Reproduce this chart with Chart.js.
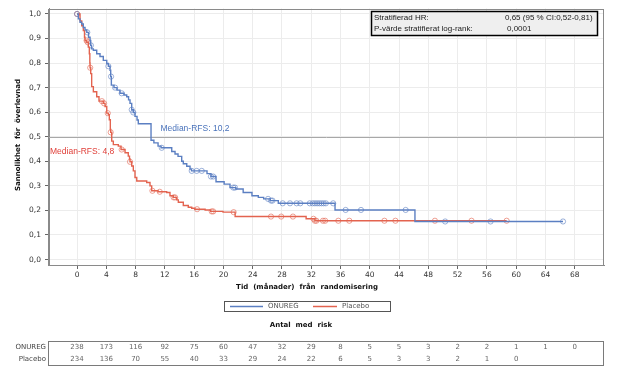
<!DOCTYPE html>
<html>
<head>
<meta charset="utf-8">
<script src="https://cdn.jsdelivr.net/npm/chart.js@4.4.1/dist/chart.umd.min.js"></script>
<style>
  html, body { margin: 0; padding: 0; background: #fff; }
  canvas { display: block; }
</style>
</head>
<body>
<canvas id="kmChart" width="626" height="385"></canvas>
<script>
// axis ticks
const xTicks = [0, 4, 8, 12, 16, 20, 24, 28, 32, 36, 40, 44, 48, 52, 56, 60, 64, 68];
const yTicks = [0, 0.1, 0.2, 0.3, 0.4, 0.5, 0.6, 0.7, 0.8, 0.9, 1.0];

// ONUREG step curve (time in months, survival)
const onuregT = [0, 0.18, 0.41, 0.64, 0.86, 1.09, 1.33, 1.57, 1.78, 1.87, 1.98, 2.23, 2.69, 3.14, 3.59, 4.06, 4.28, 4.51, 4.6, 4.69, 5.05, 5.46, 5.87, 6.42, 6.79, 7.04, 7.24, 7.47, 7.69, 7.92, 8.2, 8.37, 10.11, 10.5, 11.07, 11.48, 12.94, 13.39, 13.8, 14.3, 14.52, 14.99, 15.44, 15.64, 17.76, 18.3, 18.99, 20.1, 20.9, 21.7, 22.7, 23.9, 24.77, 25.5, 26.4, 27.5, 35.25, 46.17, 66.4];
const onuregS = [1.0, 0.98, 0.966, 0.959, 0.945, 0.935, 0.925, 0.905, 0.892, 0.872, 0.858, 0.852, 0.838, 0.827, 0.811, 0.798, 0.787, 0.771, 0.745, 0.71, 0.70, 0.69, 0.677, 0.67, 0.663, 0.65, 0.636, 0.61, 0.599, 0.583, 0.568, 0.553, 0.486, 0.475, 0.462, 0.455, 0.44, 0.43, 0.42, 0.40, 0.39, 0.38, 0.368, 0.361, 0.35, 0.338, 0.317, 0.307, 0.293, 0.287, 0.273, 0.26, 0.253, 0.247, 0.24, 0.229, 0.202, 0.155, 0.155];
const onuregCensor = [0, 1.4, 1.9, 4.28, 4.65, 5.2, 6.1, 7.47, 7.69, 11.57, 15.67, 16.35, 17.04, 18.3, 18.6, 21.35, 21.58, 26.1, 26.5, 26.7, 28.1, 29.1, 30.0, 30.5, 31.8, 32.2, 32.5, 32.8, 33.1, 33.4, 33.7, 34.0, 35.0, 36.7, 38.8, 44.9, 50.3, 56.5, 66.4];

// Placebo step curve
const placeboT = [0, 0.41, 0.64, 0.86, 1.02, 1.09, 1.33, 1.54, 1.68, 1.75, 1.78, 1.87, 2.0, 2.23, 2.69, 3.0, 3.59, 3.83, 4.06, 4.28, 4.41, 4.55, 4.6, 4.74, 4.96, 5.64, 6.01, 6.56, 7.0, 7.17, 7.24, 7.47, 7.69, 7.92, 8.16, 9.52, 9.97, 10.2, 11.07, 12.25, 12.7, 13.16, 13.62, 13.84, 14.52, 15.2, 15.67, 16.1, 17.5, 18.24, 19.95, 21.6, 31.3, 32.5, 58.7];
const placeboS = [1.0, 0.972, 0.952, 0.932, 0.905, 0.892, 0.885, 0.865, 0.838, 0.80, 0.781, 0.757, 0.704, 0.683, 0.663, 0.645, 0.636, 0.623, 0.596, 0.59, 0.569, 0.53, 0.518, 0.482, 0.468, 0.462, 0.448, 0.435, 0.421, 0.41, 0.398, 0.381, 0.361, 0.334, 0.32, 0.314, 0.30, 0.28, 0.276, 0.273, 0.26, 0.253, 0.243, 0.233, 0.22, 0.213, 0.209, 0.205, 0.202, 0.196, 0.193, 0.175, 0.166, 0.158, 0.158];
const placeboCensor = [0, 1.3, 1.45, 1.8, 3.4, 3.7, 4.2, 4.6, 6.1, 7.24, 10.3, 11.3, 13.2, 13.4, 16.4, 18.4, 18.6, 21.4, 26.5, 27.9, 29.5, 32.3, 32.5, 32.7, 33.6, 33.9, 35.7, 37.2, 42.0, 43.5, 48.9, 53.9, 58.7];

// numbers at risk (at each x tick)
const riskOnureg = [238, 173, 116, 92, 75, 60, 47, 32, 29, 8, 5, 5, 3, 2, 2, 1, 1, 0];
const riskPlacebo = [234, 136, 70, 55, 40, 33, 29, 24, 22, 6, 5, 3, 3, 2, 1, 0];

const statLabels = ['Stratifierad HR:', 'P-värde stratifierat log-rank:'];
const statValues = ['0,65 (95 % CI:0,52-0,81)', '0,0001'];

const BLUE = '#5b7fc2';
const RED = '#e3634f';

const survAt = (ts, ss, t) => {
    let s = ss[0];
    for (let i = 0; i < ts.length; i++) {
        if (ts[i] <= t) s = ss[i];
    }
    return s;
};

const curve = (ts, ss) => ts.map((t, i) => ({ x: t, y: ss[i] }));
const censored = (cs, ts, ss) => cs.map(t => ({ x: t, y: survAt(ts, ss, t) }));

const kmDecor = {
    id: 'kmDecor',
    beforeDatasetsDraw(chart) {
        const { ctx, chartArea: a, scales: { y } } = chart;
        const y5 = Math.round(y.getPixelForValue(0.5)) + 0.5;
        ctx.save();
        ctx.strokeStyle = '#a8a8a8';
        ctx.lineWidth = 1;
        ctx.beginPath();
        ctx.moveTo(a.left, y5);
        ctx.lineTo(a.right, y5);
        ctx.stroke();
        ctx.restore();
    },
    afterDraw(chart) {
        const { ctx, chartArea: a, scales: { x, y } } = chart;
        ctx.save();

        // frame
        ctx.strokeStyle = '#8a8a8a';
        ctx.lineWidth = 1;
        ctx.strokeRect(Math.round(a.left) - 0.5, Math.round(a.top) + 0.5, Math.round(a.width), Math.round(a.height) - 1);

        // stats box
        ctx.fillStyle = '#efefef';
        ctx.fillRect(371.5, 11.5, 226, 24);
        ctx.strokeStyle = '#000';
        ctx.lineWidth = 1.5;
        ctx.strokeRect(371.5, 11.5, 226, 24);
        ctx.fillStyle = '#222';
        ctx.font = '8px "Liberation Sans", Arial, sans-serif';
        ctx.textBaseline = 'middle';
        ctx.textAlign = 'left';
        ctx.fillText(statLabels[0], 374, 17.5);
        ctx.fillText(statLabels[1], 374, 29);
        ctx.fillText(statValues[0], 505, 17.5);
        ctx.fillText(statValues[1], 507, 29);

        // median labels
        ctx.font = '8.5px "Liberation Sans", Arial, sans-serif';
        ctx.fillStyle = '#4a73bb';
        ctx.fillText('Median-RFS: 10,2', x.getPixelForValue(11.4), y.getPixelForValue(0.531));
        ctx.fillStyle = '#e0403a';
        ctx.fillText('Median-RFS: 4,8', a.left + 1, y.getPixelForValue(0.44));

        // axis titles
        ctx.fillStyle = '#111';
        ctx.font = 'bold 7px "DejaVu Sans", sans-serif';
        ctx.textAlign = 'center';
        ctx.fillText('Tid  (månader)  från  randomisering', 307, 287);
        ctx.fillText('Antal  med  risk', 301, 325);
        ctx.save();
        ctx.translate(18, 135);
        ctx.rotate(-Math.PI / 2);
        ctx.fillText('Sannolikhet  för  överlevnad', 0, 0);
        ctx.restore();

        // legend
        ctx.strokeStyle = '#555';
        ctx.lineWidth = 1;
        ctx.strokeRect(224.5, 301.5, 166, 10);
        ctx.lineWidth = 1.5;
        ctx.strokeStyle = BLUE;
        ctx.beginPath(); ctx.moveTo(230, 306.5); ctx.lineTo(263, 306.5); ctx.stroke();
        ctx.strokeStyle = RED;
        ctx.beginPath(); ctx.moveTo(313, 306.5); ctx.lineTo(337, 306.5); ctx.stroke();
        ctx.font = '7px "DejaVu Sans", sans-serif';
        ctx.fillStyle = '#555';
        ctx.textAlign = 'left';
        ctx.fillText('ONUREG', 268, 306.5);
        ctx.fillText('Placebo', 342, 306.5);

        // risk table
        ctx.strokeStyle = '#7a7a7a';
        ctx.lineWidth = 1;
        ctx.strokeRect(Math.round(a.left) - 0.5, 341.5, Math.round(a.width), 24);
        ctx.textAlign = 'right';
        ctx.fillStyle = '#444';
        ctx.fillText('ONUREG', 46, 347.5);
        ctx.fillText('Placebo', 46, 359);
        ctx.textAlign = 'center';
        ctx.fillStyle = '#666';
        riskOnureg.forEach((n, i) => ctx.fillText(String(n), x.getPixelForValue(xTicks[i]), 347.5));
        riskPlacebo.forEach((n, i) => ctx.fillText(String(n), x.getPixelForValue(xTicks[i]), 359));

        ctx.restore();
    }
};

new Chart(document.getElementById('kmChart'), {
    type: 'line',
    data: {
        datasets: [
            {
                label: 'ONUREG',
                data: curve(onuregT, onuregS),
                borderColor: BLUE,
                borderWidth: 1.4,
                stepped: 'before',
                pointRadius: 0,
                fill: false
            },
            {
                label: 'Placebo',
                data: curve(placeboT, placeboS),
                borderColor: RED,
                borderWidth: 1.4,
                stepped: 'before',
                pointRadius: 0,
                fill: false
            },
            {
                label: 'ONUREG censored',
                data: censored(onuregCensor, onuregT, onuregS),
                showLine: false,
                pointStyle: 'circle',
                pointRadius: 2.6,
                pointBorderWidth: 1,
                pointBorderColor: 'rgba(91,127,194,0.6)',
                pointBackgroundColor: 'rgba(255,255,255,0)'
            },
            {
                label: 'Placebo censored',
                data: censored(placeboCensor, placeboT, placeboS),
                showLine: false,
                pointStyle: 'circle',
                pointRadius: 2.6,
                pointBorderWidth: 1,
                pointBorderColor: 'rgba(227,99,79,0.6)',
                pointBackgroundColor: 'rgba(255,255,255,0)'
            }
        ]
    },
    options: {
        responsive: false,
        animation: false,
        layout: { padding: { left: 0, right: 22, top: 6, bottom: 0 } },
        plugins: {
            legend: { display: false },
            tooltip: { enabled: false }
        },
        scales: {
            x: {
                type: 'linear',
                min: -3.83,
                max: 72.0,
                afterBuildTicks: (scale) => { scale.ticks = xTicks.map(v => ({ value: v })); },
                afterFit: (scale) => { scale.height = 120; },
                grid: { color: '#ececec', tickColor: '#666', tickLength: 4 },
                border: { color: '#8a8a8a' },
                ticks: {
                    autoSkip: false,
                    maxRotation: 0,
                    padding: 2,
                    color: '#333',
                    font: { family: 'DejaVu Sans', size: 7.5 }
                }
            },
            y: {
                type: 'linear',
                min: -0.0222,
                max: 1.0222,
                afterBuildTicks: (scale) => { scale.ticks = yTicks.map(v => ({ value: v })); },
                afterFit: (scale) => { scale.width = 49; },
                grid: { color: '#ececec', tickColor: '#666', tickLength: 4 },
                border: { color: '#8a8a8a' },
                ticks: {
                    padding: 4,
                    color: '#333',
                    font: { family: 'DejaVu Sans', size: 7.5 },
                    callback: (v) => v.toFixed(1).replace('.', ',')
                }
            }
        }
    },
    plugins: [kmDecor]
});
</script>
</body>
</html>
